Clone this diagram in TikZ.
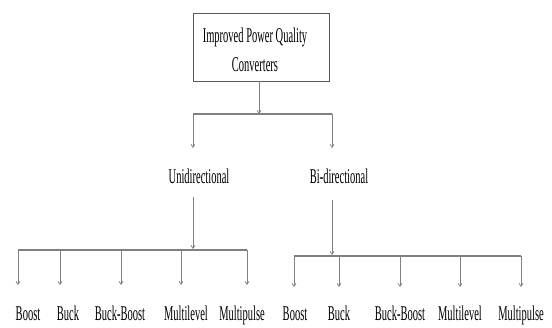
\documentclass[tikz,border=0pt]{standalone}
\usepackage{fontspec}
\setmainfont[FakeStretch=0.5]{Liberation Serif}
\usetikzlibrary{arrows.meta}
\begin{document}
\begin{tikzpicture}[x=1pt,y=-1pt,
 line/.style={draw=black!50, line width=0.7pt},
 conn/.style={line, -{Straight Barb[length=3pt,width=4pt]}},
 bar/.style={draw=black!50, line width=1.4pt},
 lbl/.style={inner sep=0pt, anchor=base, font=\fontsize{21}{29}\selectfont},
 box/.style={draw=black!65, line width=0.8pt, minimum width=136pt, minimum height=68pt, inner sep=0pt}]
\useasboundingbox (0,0) rectangle (552,327);
\node[box] (top) at (261,47) {};
\node[lbl] (t1) at (255,42) {Improved Power Quality};
\node[lbl] (t2) at (255,71) {Converters};
\coordinate (j1) at (259,114);
\draw[conn] (top.south -| j1) -- (j1);
\coordinate (bl) at (193,114);
\coordinate (br) at (332,114);
\draw[bar] (bl) -- (br);
\coordinate (ua) at (193,148);
\coordinate (ba) at (332,148);
\draw[conn] (bl) -- (ua);
\draw[conn] (br) -- (ba);
\node[lbl] (uni) at (199,183) {Unidirectional};
\node[lbl] (bi) at (339,183) {Bi-directional};
\coordinate (us) at (193,197);
\coordinate (uj) at (193,249);
\draw[conn] (us) -- (uj);
\coordinate (bs) at (332,200);
\coordinate (bj) at (332,255);
\draw[conn] (bs) -- (bj);
\coordinate (ul) at (18,250);
\coordinate (ur) at (247,250);
\draw[bar] (ul) -- (ur);
\coordinate (bbl) at (294,256);
\coordinate (bbr) at (521,256);
\draw[bar] (bbl) -- (bbr);
\foreach \n/\ax/\lx/\t in {u1/18/28/Boost, u2/60/68/Buck, u3/121/120/Buck-Boost, u4/181/186/Multilevel, u5/247/242/Multipulse} {
  \coordinate (\n top) at (\ax,250);
  \coordinate (\n tip) at (\ax,285);
  \draw[conn] (\n top) -- (\n tip);
  \node[lbl] (\n) at (\lx,320) {\t};
}
\foreach \n/\ax/\lx/\t in {b1/294/295/Boost, b2/339/339/Buck, b3/400/400/Buck-Boost, b4/460/460/Multilevel, b5/521/521/Multipulse} {
  \coordinate (\n top) at (\ax,256);
  \coordinate (\n tip) at (\ax,287);
  \draw[conn] (\n top) -- (\n tip);
  \node[lbl] (\n) at (\lx,320) {\t};
}
\end{tikzpicture}
\end{document}
